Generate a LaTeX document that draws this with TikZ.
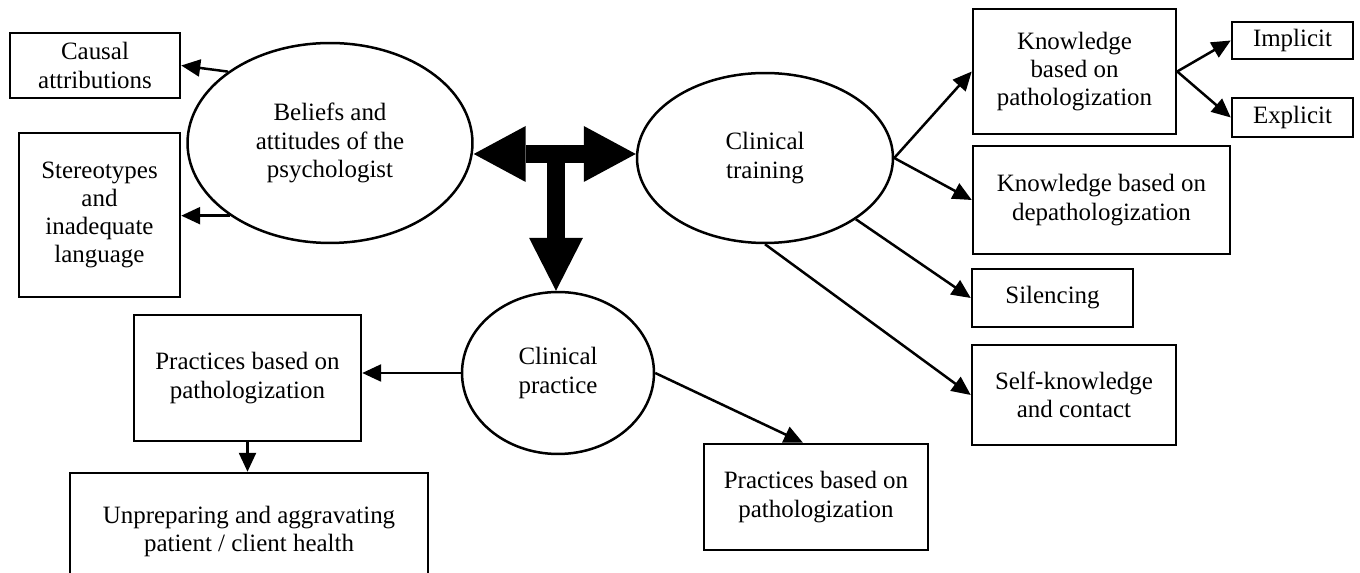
\documentclass[tikz,border=0pt]{standalone}
\usepackage{fontspec}
\setmainfont{Liberation Serif}
\usetikzlibrary{arrows.meta,shapes.geometric}

\begin{document}
\begin{tikzpicture}[x=0.02cm, y=-0.02cm,
		every node/.style={font=\fontsize{14.2}{16}\selectfont, align=center, inner sep=0pt},
		box/.style={draw, line width=0.05cm, rectangle},
		oval/.style={draw, line width=0.05cm, ellipse},
		link/.style={line width=0.05cm, -{Triangle[length=0.38cm, width=0.34cm]}},
		bigarrow/.style={line width=0.36cm}]
	\useasboundingbox (0,0) rectangle (1360,573);

	% the three ovals
	\node[oval, minimum width=5.7cm, minimum height=4cm] (belief) at (330,143) {Beliefs and\\attitudes of the\\psychologist};
	\node[oval, minimum width=5.12cm, minimum height=3.4cm] (train) at (765,158) {Clinical\\training};
	\node[oval, minimum width=3.84cm, minimum height=3.24cm] (prac) at (558,373) {Clinical\\practice};

	% left side
	\node[box, minimum width=3.4cm, minimum height=1.3cm] (causal) at (95,65.5) {Causal\\attributions};
	\node[box, minimum width=3.22cm, minimum height=3.28cm] (stereo) at (99.5,215) {Stereotypes\\and\\inadequate\\language};
	\node[box, minimum width=4.54cm, minimum height=2.52cm] (pbl) at (247.5,378) {Practices based on\\pathologization};
	\node[box, minimum width=7.16cm, minimum height=2.34cm] (unprep) at (249,531.5) {Unpreparing and aggravating\\patient / client health};
	\node[box, minimum width=4.48cm, minimum height=2.12cm] (pbr) at (816,497) {Practices based on\\pathologization};

	% right side
	\node[box, minimum width=4.06cm, minimum height=2.5cm] (kp) at (1074.5,71.5) {Knowledge\\based on\\pathologization};
	\node[box, minimum width=2.42cm, minimum height=0.74cm] (imp) at (1292.5,40.5) {Implicit};
	\node[box, minimum width=2.42cm, minimum height=0.78cm] (exp) at (1292.5,117.5) {Explicit};
	\node[box, minimum width=5.14cm, minimum height=2.16cm] (kd) at (1101.5,200) {Knowledge based on\\depathologization};
	\node[box, minimum width=3.22cm, minimum height=1.16cm] (sil) at (1052.5,298) {Silencing};
	\node[box, minimum width=4.08cm, minimum height=2cm] (skn) at (1074,395) {Self-knowledge\\and contact};

	% big T
	\coordinate (hub) at (556,154);
	\coordinate (hubtop) at (556,145);
	\draw[bigarrow, {Triangle[length=1.04cm, width=1.12cm, line width=0pt]}-{Triangle[length=1.04cm, width=1.12cm, line width=0pt]}] (belief.east |- hub) -- (train.west |- hub);
	\draw[bigarrow, -{Triangle[length=1.06cm, width=1.08cm, line width=0pt]}] (hubtop) -- (hubtop |- prac.north);

	% links
	\draw[link] (belief.145) -- (causal.east);
	\draw[link] (belief.216) -- (belief.216 -| stereo.east);
	\draw[link] (train.east) -- (kp.west);
	\draw[link] (train.east) -- (kd.west);
	\draw[link] (train.-34) -- (sil.west);
	\draw[link] (train.south) -- (skn.west);
	\draw[link] (kp.east) -- (imp.west);
	\draw[link] (kp.east) -- (exp.west);
	\draw[link] (prac.west) -- (prac.west -| pbl.east);
	\draw[link] (prac.east) -- ([xshift=-0.26cm]pbr.north);
	\draw[link] (pbl.south) -- (pbl.south |- unprep.north);
\end{tikzpicture}
\end{document}
